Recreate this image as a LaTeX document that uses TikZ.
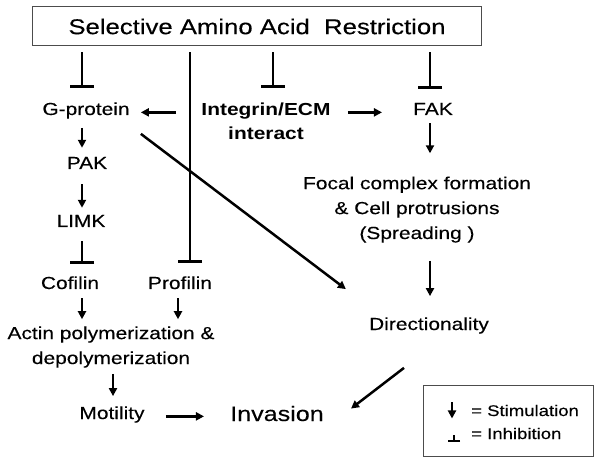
\documentclass[tikz,border=0pt]{standalone}
\usepackage{fontspec}
\setmainfont[FakeStretch=1.2, UprightFeatures={FakeBold=0.25}]{Liberation Sans}
\usetikzlibrary{arrows.meta}

\begin{document}
\begin{tikzpicture}[x=1bp, y=-1bp, line width=2.5bp,
  txt/.style={inner sep=0pt, anchor=base, align=center, font=\fontsize{17.5}{25}\selectfont},
  stim/.style={-{Triangle[length=8bp,width=8bp]}},
  inhib/.style={-{Bar[width=24bp,line width=3bp]}}]
\useasboundingbox (0,0) rectangle (601,463);
\node[draw=black!70, line width=1bp, minimum width=448bp, minimum height=39bp, inner sep=0pt, font=\fontsize{21.5}{25}\selectfont] (t) at (257,26.5) {Selective Amino Acid\ \ Restriction};
\node[txt] (g) at (86,115) {G-protein};
\node[txt, font=\fontsize{17.5}{25}\selectfont\bfseries] (i) at (266,140) {Integrin/ECM\\interact};
\node[txt] (f) at (433,115) {FAK};
\node[txt] (p) at (87,169) {PAK};
\node[txt] (l) at (81,227) {LIMK};
\node[txt] (c) at (70,289) {Cofilin};
\node[txt] (pr) at (180,289) {Profilin};
\node[txt] (a) at (111,364) {Actin polymerization \&\\depolymerization};
\node[txt] (m) at (112,419) {Motility};
\node[txt, font=\fontsize{21}{25}\selectfont] (v) at (277,421) {Invasion};
\node[txt] (fc) at (417,239) {Focal complex formation\\\& Cell protrusions\\(Spreading )};
\node[txt] (d) at (429,330) {Directionality};
\coordinate (xa) at (82,0);
\coordinate (xp) at (190,0);
\coordinate (xq) at (178,0);
\coordinate (xi) at (273,0);
\coordinate (xf) at (430,0);
\coordinate (xm) at (113,0);
\draw[inhib, shorten <=6bp, shorten >=13bp] (t.south -| xa) -- (g.north -| xa);
\draw[inhib, shorten <=6bp, shorten >=13bp] (t.south -| xi) -- (i.north -| xi);
\draw[inhib, shorten <=6bp, shorten >=13bp] (t.south -| xf) -- (f.north -| xf);
\draw[inhib, shorten <=6bp, shorten >=12bp] (t.south -| xp) -- (pr.north -| xp);
\draw[stim, shorten <=24bp, shorten >=10bp] (g.mid east -| i.west) -- (g.mid east);
\draw[stim, shorten <=16bp, shorten >=30bp] (f.mid west -| i.east) -- (f.mid west);
\draw[stim, shorten <=8bp, shorten >=8bp] (g.south -| xa) -- (p.north -| xa);
\draw[stim, shorten <=14bp, shorten >=6bp] (p.south -| xa) -- (l.north -| xa);
\draw[inhib, shorten <=13bp, shorten >=11bp] (l.south -| xa) -- (c.north -| xa);
\draw[stim, shorten <=8bp, shorten >=6bp] (c.south -| xa) -- (a.north -| xa);
\draw[stim, shorten <=8bp, shorten >=6bp] (pr.south -| xq) -- (a.north -| xq);
\draw[stim, shorten <=5bp, shorten >=9bp] (a.south -| xm) -- (m.north -| xm);
\draw[stim, shorten <=20bp, shorten >=25bp] (m.mid east) -- (m.mid east -| v.west);
\draw[stim] ([shift={(10,14)}]g.south east) -- ([shift={(-22,-27)}]d.north west);
\draw[stim, shorten <=7bp, shorten >=22bp] (f.south -| xf) -- (fc.north -| xf);
\draw[stim, shorten <=17bp, shorten >=20bp] (fc.south -| xf) -- (d.north -| xf);
\draw[stim] ([shift={(-25,33)}]d.south) -- ([shift={(26,4)}]v.north east);
\node[draw=black!70, line width=1bp, minimum width=170bp, minimum height=71bp] (k) at (508,420.5) {};
\node[txt, anchor=base west, font=\fontsize{15.5}{20}\selectfont] (ks) at (470,416) {= Stimulation};
\node[txt, anchor=base west, font=\fontsize{15.5}{20}\selectfont] (ki) at (470,439) {= Inhibition};
\draw[stim] (ks.west) ++(-18,-8) -- ++(0,16);
\draw[-{Bar[width=12bp,line width=2.5bp]}] (ki.west) ++(-16,2) -- ++(0,7);
\end{tikzpicture}
\end{document}
